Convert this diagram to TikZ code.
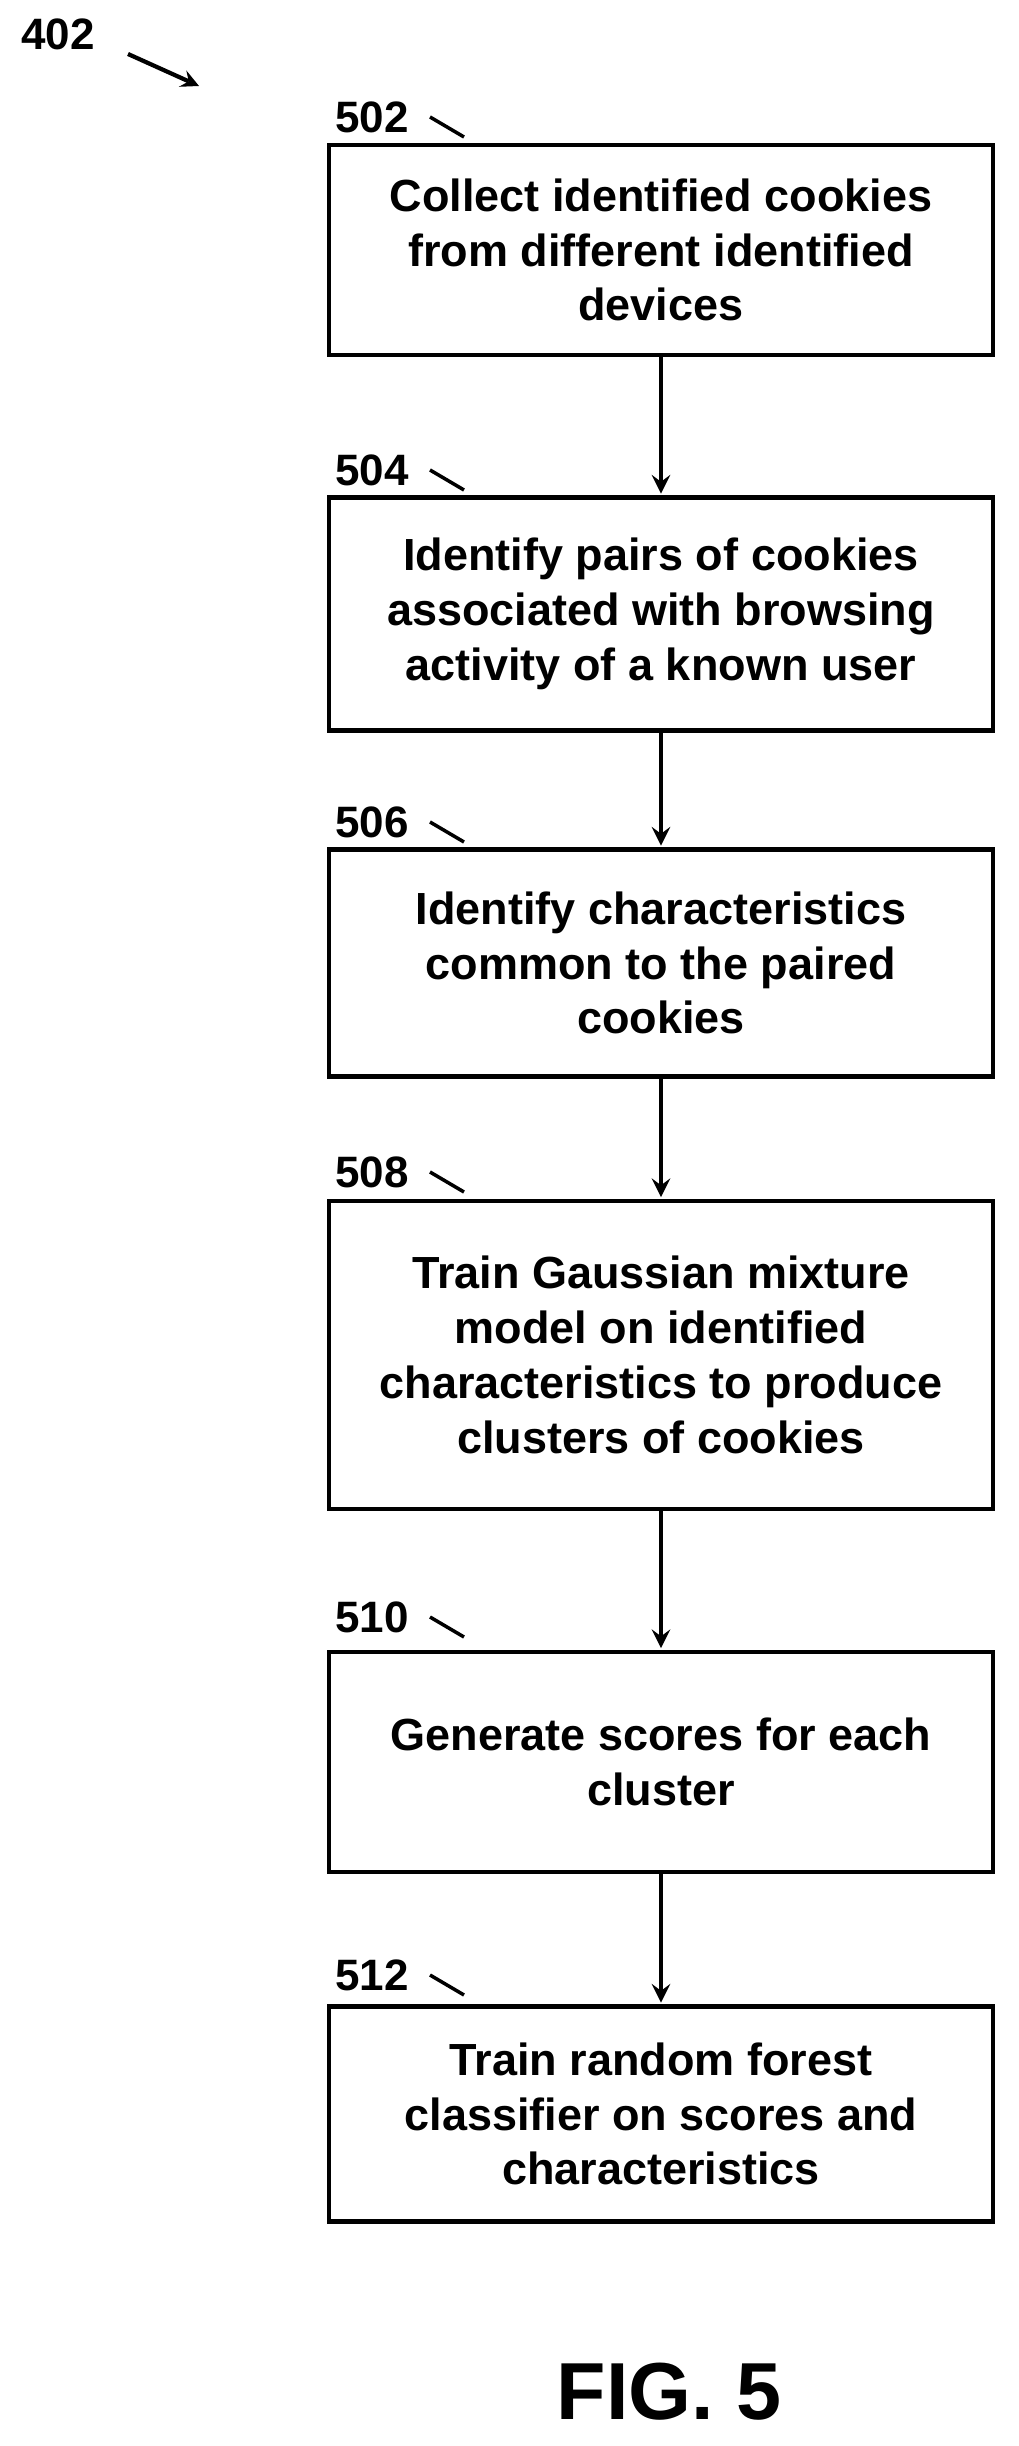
\documentclass[tikz,border=0pt]{standalone}
\usepackage{fontspec}
\setmainfont{Liberation Sans}
\usetikzlibrary{positioning}

\begin{document}
\begin{tikzpicture}[x=0.01cm, y=-0.01cm, thick, >=stealth,
    box/.style = {draw, line width=1.2pt, rectangle, align=center, minimum width=6.63cm, font=\bfseries\fontsize{12.8}{15.6}\selectfont},
    num/.style = {font=\bfseries\fontsize{12.5}{15}\selectfont},
    flow/.style = {->, line width=1.3pt, shorten >=0.5pt}]
    \useasboundingbox (0,0) rectangle (1019,2446);

    \node[box, minimum height=2.1cm] (502) at (661,250) {Collect identified cookies\\from different identified\\devices};
    \node[box, minimum height=2.33cm] (504) at (661,614) {Identify pairs of cookies\\associated with browsing\\activity of a known user};
    \node[box, minimum height=2.27cm] (506) at (661,963) {Identify characteristics\\common to the paired\\cookies};
    \node[box, minimum height=3.08cm] (508) at (661,1355) {Train Gaussian mixture\\model on identified\\characteristics to produce\\clusters of cookies};
    \node[box, minimum height=2.2cm] (510) at (661,1762) {Generate scores for each\\cluster};
    \node[box, minimum height=2.15cm] (512) at (661,2114) {Train random forest\\classifier on scores and\\characteristics};

    \draw[flow] (502) -- (504);
    \draw[flow] (504) -- (506);
    \draw[flow] (506) -- (508);
    \draw[flow] (508) -- (510);
    \draw[flow] (510) -- (512);

    % reference numerals
    \foreach \n/\y in {502/117, 504/470, 506/822, 508/1172, 510/1617, 512/1975} {
        \node[num] (l\n) at (372,\y) {\n};
        \draw[line width=1pt] (430,\y) -- (464,\y+20);
    }

    \node[num] (l402) at (58,34) {402};
    \coordinate (t402) at (199,86);
    \draw[->, line width=1.2pt] (128,54) -- (t402);

    \node[font=\bfseries\fontsize{23}{27}\selectfont] (fig) at (669,2392) {FIG. 5};
\end{tikzpicture}
\end{document}
